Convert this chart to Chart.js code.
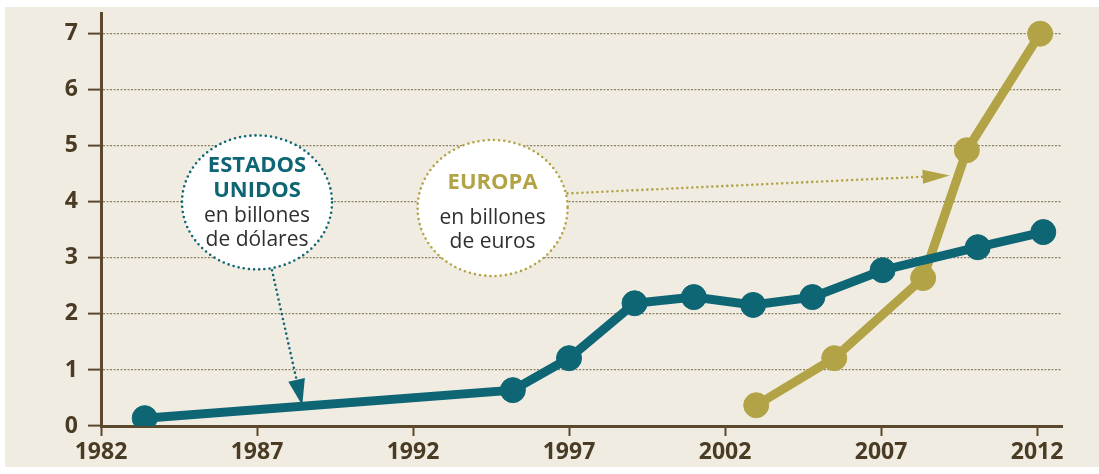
<!DOCTYPE html>
<html>
<head>
<meta charset="utf-8">
<script src="https://cdn.jsdelivr.net/npm/chart.js@4.4.1/dist/chart.umd.min.js"></script>
<style>
  html, body { margin: 0; padding: 0; background: #ffffff; }
  #wrap { width: 1099px; height: 474px; position: relative; }
</style>
</head>
<body>
<div id="wrap"><canvas id="c" width="1099" height="474"></canvas></div>
<script>
// ---- data ----
const yearTicks = [1982, 1987, 1992, 1997, 2002, 2007, 2012];
const valueTicks = [0, 1, 2, 3, 4, 5, 6, 7];

const usYears  = [1983.4, 1995.2, 1997.0, 1999.1, 2001.0, 2002.9, 2004.8, 2007.05, 2010.1, 2012.2];
const usValues = [0.14, 0.64, 1.21, 2.19, 2.30, 2.16, 2.30, 2.78, 3.19, 3.46];

const euYears  = [2003.0, 2005.5, 2008.35, 2009.75, 2012.1];
const euValues = [0.37, 1.21, 2.64, 4.92, 7.0];

const usLabel = ["ESTADOS", "UNIDOS", "en billones", "de dólares"];
const euLabel = ["EUROPA", "en billones", "de euros"];

// ---- styles ----
const TEAL = '#0e6675';
const GOLD = '#b3a347';
const BG = '#f1ece1';
const INK = '#4a3c24';
const AXIS = '#5a492c';
const FONT = '"Open Sans", "Noto Sans", sans-serif';

const toPts = (xs, ys) => xs.map((x, i) => ({ x: x, y: ys[i] }));

const bgPlugin = {
  id: 'bg',
  beforeDraw(chart) {
    const ctx = chart.ctx;
    ctx.save();
    ctx.fillStyle = '#ffffff';
    ctx.fillRect(0, 0, chart.width, chart.height);
    ctx.fillStyle = BG;
    ctx.fillRect(5, 7, chart.width - 5, 460);
    ctx.restore();
  }
};

function bubble(ctx, cx, cy, rx, ry, color) {
  ctx.save();
  ctx.beginPath();
  ctx.ellipse(cx, cy, rx, ry, 0, 0, Math.PI * 2);
  ctx.fillStyle = '#ffffff';
  ctx.fill();
  ctx.setLineDash([0, 5.2]);
  ctx.lineCap = 'round';
  ctx.lineWidth = 2.6;
  ctx.strokeStyle = color;
  ctx.stroke();
  ctx.restore();
}

function dottedArrow(ctx, x1, y1, x2, y2, color, headLen, headW) {
  const ang = Math.atan2(y2 - y1, x2 - x1);
  const bx = x2 - Math.cos(ang) * headLen;
  const by = y2 - Math.sin(ang) * headLen;
  ctx.save();
  ctx.beginPath();
  ctx.moveTo(x1, y1);
  ctx.lineTo(bx, by);
  ctx.setLineDash([0, 5]);
  ctx.lineCap = 'round';
  ctx.lineWidth = 2.6;
  ctx.strokeStyle = color;
  ctx.stroke();
  ctx.setLineDash([]);
  ctx.beginPath();
  ctx.moveTo(x2, y2);
  ctx.lineTo(bx + Math.sin(ang) * headW / 2, by - Math.cos(ang) * headW / 2);
  ctx.lineTo(bx - Math.sin(ang) * headW / 2, by + Math.cos(ang) * headW / 2);
  ctx.closePath();
  ctx.fillStyle = color;
  ctx.fill();
  ctx.restore();
}

const annotPlugin = {
  id: 'annot',
  afterDatasetsDraw(chart) {
    const ctx = chart.ctx;
    const xs = chart.scales.x, ys = chart.scales.y;
    const P = (yr, v) => [xs.getPixelForValue(yr), ys.getPixelForValue(v)];

    // Estados Unidos bubble
    const [ux, uy] = P(1987.0, 3.99);
    const [a1x, a1y] = P(1987.48, 2.78);
    const [t1x, t1y] = P(1988.45, 0.37);
    dottedArrow(ctx, a1x, a1y, t1x, t1y, TEAL, 26, 17);
    bubble(ctx, ux, uy, 75, 67, TEAL);

    // Europa bubble
    const [ex, ey] = P(1994.55, 3.89);
    const [a2x, a2y] = P(1996.95, 4.15);
    const [t2x, t2y] = P(2009.2, 4.47);
    dottedArrow(ctx, a2x, a2y, t2x, t2y, GOLD, 27, 14);
    bubble(ctx, ex, ey, 75, 68, GOLD);

    ctx.save();
    ctx.textAlign = 'center';
    ctx.textBaseline = 'middle';
    ctx.fillStyle = TEAL;
    ctx.font = 'bold 22px ' + FONT;
    ctx.fillText(usLabel[0], ux, uy - 37);
    ctx.fillText(usLabel[1], ux, uy - 12);
    ctx.fillStyle = '#2f2f2f';
    ctx.font = '21px ' + FONT;
    ctx.fillText(usLabel[2], ux, uy + 14);
    ctx.fillText(usLabel[3], ux, uy + 38);

    ctx.fillStyle = GOLD;
    ctx.font = 'bold 22px ' + FONT;
    ctx.fillText(euLabel[0], ex, ey - 25);
    ctx.fillStyle = '#2f2f2f';
    ctx.font = '21px ' + FONT;
    ctx.fillText(euLabel[1], ex, ey + 10);
    ctx.fillText(euLabel[2], ex, ey + 34);
    ctx.restore();
  }
};

new Chart(document.getElementById('c'), {
  type: 'line',
  data: {
    datasets: [
      {
        label: 'Europa',
        data: toPts(euYears, euValues),
        borderColor: GOLD,
        backgroundColor: GOLD,
        pointBackgroundColor: GOLD,
        pointBorderColor: GOLD,
        borderWidth: 9,
        pointRadius: 12.5,
        pointBorderWidth: 1,
        tension: 0,
        order: 2
      },
      {
        label: 'Estados Unidos',
        data: toPts(usYears, usValues),
        borderColor: TEAL,
        backgroundColor: TEAL,
        pointBackgroundColor: TEAL,
        pointBorderColor: TEAL,
        borderWidth: 9,
        pointRadius: 12.5,
        pointBorderWidth: 1,
        tension: 0,
        order: 1
      }
    ]
  },
  options: {
    responsive: false,
    animation: false,
    events: [],
    layout: { padding: { left: 0, right: 37, top: 0, bottom: 0 } },
    plugins: { legend: { display: false }, tooltip: { enabled: false } },
    scales: {
      x: {
        type: 'linear',
        min: 1982,
        max: 2012.8,
        afterBuildTicks: (s) => { s.ticks = yearTicks.map(v => ({ value: v })); },
        afterFit: (s) => { s.height = 48; s.paddingLeft = 0; s.paddingRight = 0; },
        ticks: {
          color: INK,
          font: { family: FONT, size: 23, weight: 'bold' },
          padding: 3,
          maxRotation: 0,
          autoSkip: false,
          callback: (v) => String(v)
        },
        grid: {
          drawOnChartArea: false,
          drawTicks: true,
          tickLength: 10,
          tickColor: AXIS,
          tickWidth: 2,
          color: AXIS
        },
        border: { display: true, color: AXIS, width: 3 }
      },
      y: {
        type: 'linear',
        min: 0,
        max: 7.36,
        afterBuildTicks: (s) => { s.ticks = valueTicks.map(v => ({ value: v })); },
        afterFit: (s) => { s.width = 101; s.paddingTop = 0; s.paddingBottom = 0; },
        ticks: {
          color: INK,
          font: { family: FONT, size: 23, weight: 'bold' },
          padding: 10,
          callback: (v) => String(v)
        },
        grid: {
          drawOnChartArea: true,
          drawTicks: true,
          tickLength: 13,
          tickColor: AXIS,
          tickWidth: 2,
          color: '#8c7f68',
          lineWidth: 1.2
        },
        border: { display: true, color: AXIS, width: 3, dash: [2, 1.5] }
      }
    }
  },
  plugins: [bgPlugin, annotPlugin]
});
</script>
</body>
</html>
